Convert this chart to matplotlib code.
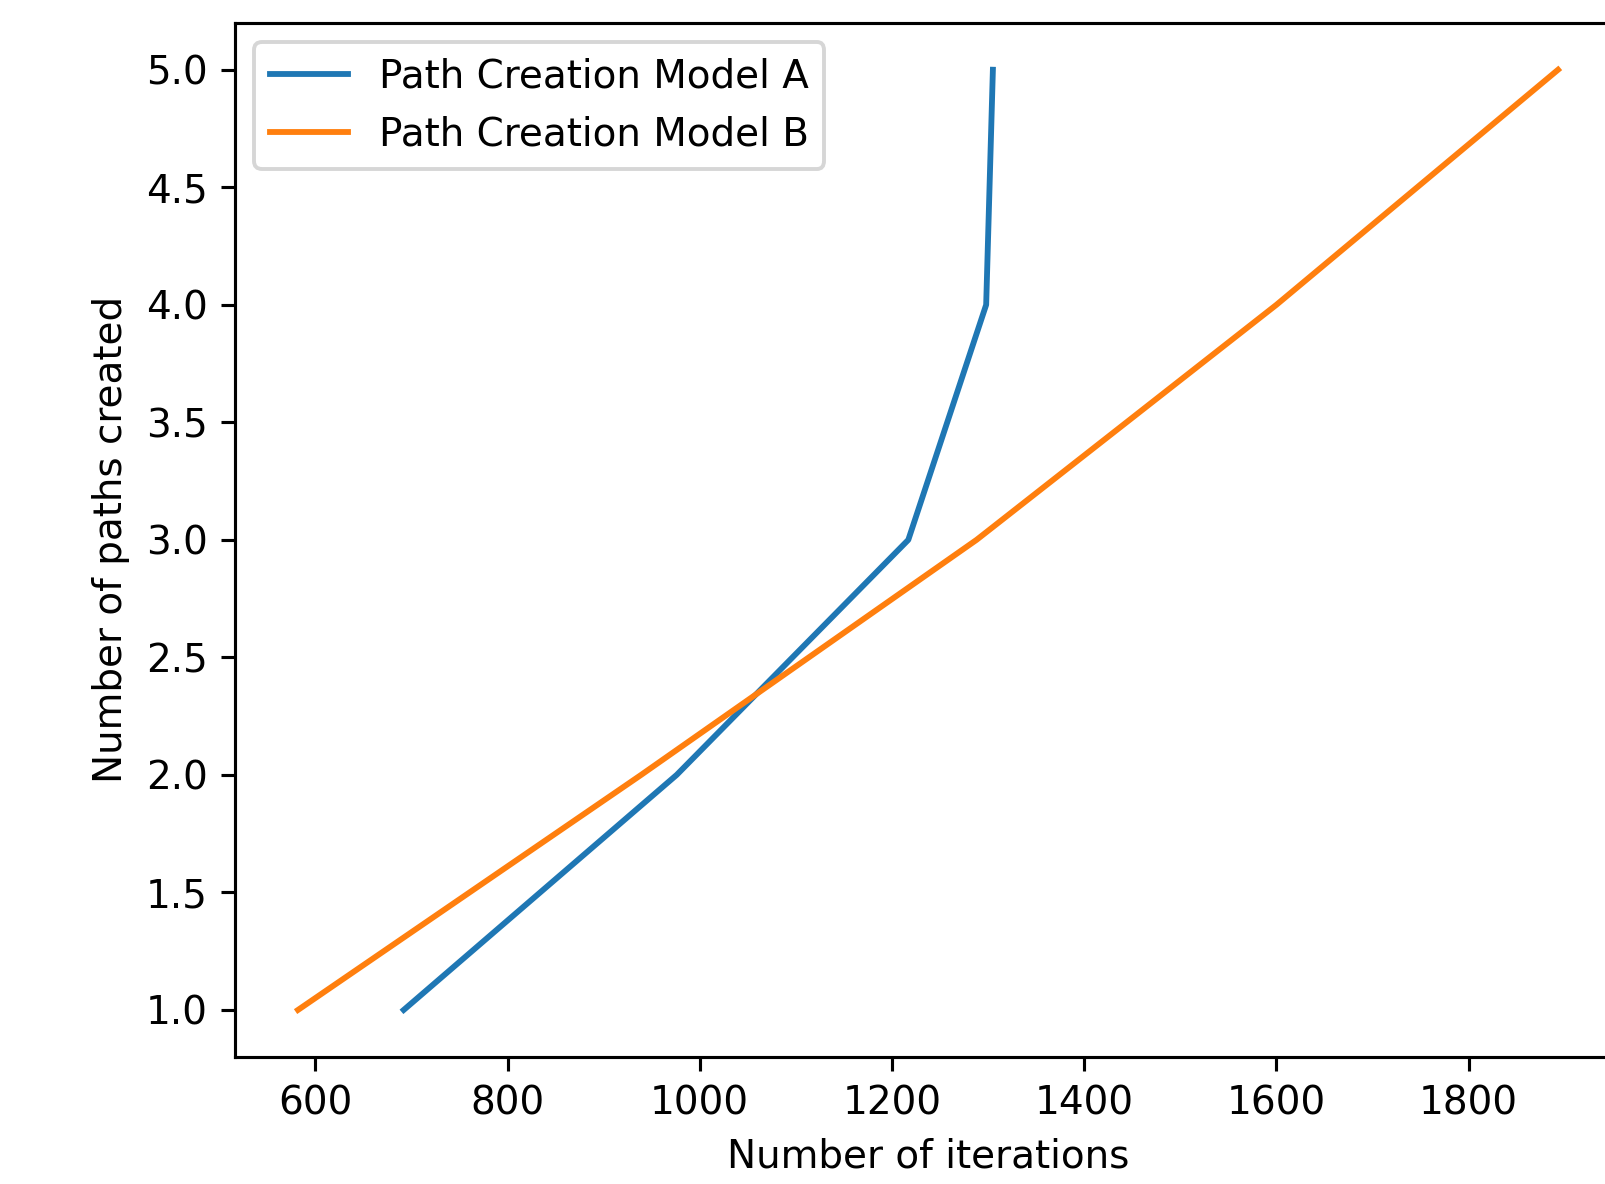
import matplotlib.pyplot as plt

# Number of paths created (y) vs iterations needed (x)
paths = [1, 2, 3, 4, 5]
iterations_a = [692, 976, 1217, 1298, 1305]
iterations_b = [582, 939, 1288, 1600, 1893]

# Figure sized to the reference; axes run past the right edge like the crop
fig = plt.figure(figsize=(1605 / 280, 1184 / 280), dpi=280)
ax = fig.add_axes([0.1464, 0.1073, 0.8636, 0.8735])

ax.plot(iterations_a, paths, label='Path Creation Model A')
ax.plot(iterations_b, paths, label='Path Creation Model B')

ax.set_xlabel('Number of iterations')
ax.set_ylabel('Number of paths created')
ax.legend(loc='upper left')

fig.savefig('out.png', dpi=280)
